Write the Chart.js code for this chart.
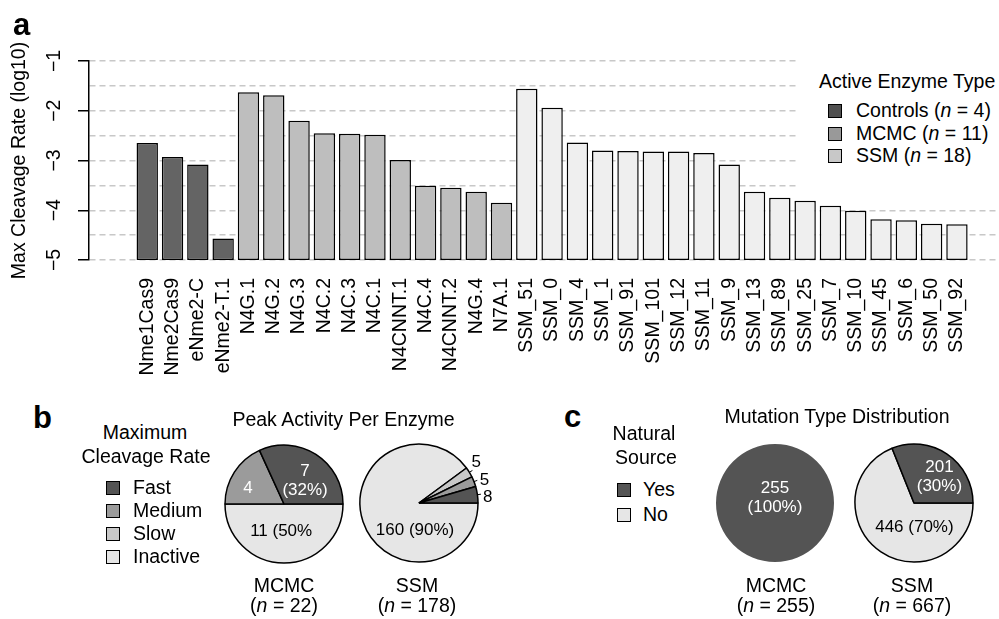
<!DOCTYPE html>
<html>
<head>
<meta charset="utf-8">
<script src="https://cdn.jsdelivr.net/npm/chart.js@4"></script>
<style>
  body { margin: 0; background: #fff; }
  #fig { position: relative; width: 999px; height: 619px; font-family: "Liberation Sans", Arial, sans-serif; color: #000; }
  #fig canvas { position: absolute; }
  .t { position: absolute; white-space: nowrap; line-height: 1; font-size: 19.5px; }
  .sw { position: absolute; box-sizing: border-box; border: 1.5px solid #000; }
</style>
</head>
<body>
<div id="fig">
  <canvas id="barChart" width="999" height="385" style="left:0;top:0"></canvas>
  <canvas id="peakMcmc" width="170" height="170"></canvas>
  <canvas id="peakSsm" width="170" height="170"></canvas>
  <canvas id="srcMcmc" width="170" height="170"></canvas>
  <canvas id="srcSsm" width="170" height="170"></canvas>
</div>
<script>
// ---- panel a data ----
const enzymeNames = ['Nme1Cas9', 'Nme2Cas9', 'eNme2-C', 'eNme2-T.1',
    'N4G.1', 'N4G.2', 'N4G.3', 'N4C.2', 'N4C.3', 'N4C.1', 'N4CNNT.1', 'N4C.4', 'N4CNNT.2', 'N4G.4', 'N7A.1',
    'SSM_51', 'SSM_0', 'SSM_4', 'SSM_1', 'SSM_91', 'SSM_101', 'SSM_12', 'SSM_11', 'SSM_9',
    'SSM_13', 'SSM_89', 'SSM_25', 'SSM_7', 'SSM_10', 'SSM_45', 'SSM_6', 'SSM_50', 'SSM_92'];
const maxCleavage = [-2.65, -2.93, -3.08, -4.57,
    -1.63, -1.69, -2.20, -2.45, -2.46, -2.48, -2.99, -3.51, -3.55, -3.63, -3.85,
    -1.56, -1.94, -2.64, -2.80, -2.81, -2.82, -2.82, -2.85, -3.08,
    -3.63, -3.75, -3.81, -3.91, -4.01, -4.18, -4.20, -4.27, -4.28];
const groupNames = ['Controls', 'MCMC', 'SSM'];
const groupSizes = [4, 11, 18];
const yFloor = -5;
const yCeil = -1;

// ---- panel b / c data ----
const rateClasses = ['Fast', 'Medium', 'Slow', 'Inactive'];
const peakMcmc = [7, 4, 0, 11];
const peakSsm = [8, 5, 5, 160];
const peakMcmcText = ['7\n(32%)', '4', '', '11 (50%'];
const peakSsmText = ['8', '5', '5', '160 (90%)'];
const sourceClasses = ['Yes', 'No'];
const sourceMcmc = [255, 0];
const sourceSsm = [201, 446];
const sourceMcmcText = ['255\n(100%)', ''];
const sourceSsmText = ['201\n(30%)', '446 (70%)'];
const pieGroups = ['MCMC', 'SSM'];
const peakTotals = [22, 178];
const sourceTotals = [255, 667];

// colours
const barFill = ['#646464', '#bebebe', '#efefef'];
const barKey = ['#505050', '#999999', '#c8c8c8'];
const rateFill = ['#545454', '#9b9b9b', '#c8c8c8', '#e6e6e6'];
const sourceFill = ['#545454', '#e6e6e6'];

const FONT = '"Liberation Sans", Arial, sans-serif';
Chart.defaults.font.family = FONT;
Chart.defaults.font.size = 19.5;
Chart.defaults.color = '#000';

const fig = document.getElementById('fig');

// put a text node on the figure; align: 'c' centre, 'l' left
function put(html, x, y, align, css) {
    const d = document.createElement('div');
    d.className = 't';
    d.innerHTML = html;
    d.style.left = x + 'px';
    d.style.top = y + 'px';
    d.style.transform = align === 'l' ? 'translate(0,-50%)' : 'translate(-50%,-50%)';
    if (css) Object.assign(d.style, css);
    fig.appendChild(d);
    return d;
}

function swatch(x, y, size, colour) {
    const s = document.createElement('div');
    s.className = 'sw';
    s.style.left = x + 'px';
    s.style.top = (y - size / 2) + 'px';
    s.style.width = size + 'px';
    s.style.height = size + 'px';
    s.style.background = colour;
    fig.appendChild(s);
}

// ---- panel a: bar chart ----
const barColours = groupSizes.flatMap((n, g) => Array(n).fill(barFill[g]));

new Chart(document.getElementById('barChart'), {
    type: 'bar',
    data: {
        datasets: [{
            data: maxCleavage.map((v, i) => ({ x: i + 1, y: [yFloor, v] })),
            backgroundColor: barColours,
            borderColor: '#000',
            borderWidth: 1.5,
            borderSkipped: false,
            barPercentage: 0.845,
            categoryPercentage: 1
        }]
    },
    options: {
        responsive: false,
        animation: false,
        events: [],
        layout: { padding: { top: 61, right: 0, bottom: 0, left: 0 } },
        plugins: { legend: { display: false }, tooltip: { enabled: false } },
        scales: {
            x: {
                type: 'linear',
                min: -0.757,
                max: 34.117,
                afterBuildTicks: s => { s.ticks = enzymeNames.map((_, i) => ({ value: i + 1 })); },
                afterFit: s => { s.height = 125; },
                grid: { display: false, drawTicks: false },
                border: { display: false },
                ticks: {
                    autoSkip: false,
                    minRotation: 90,
                    maxRotation: 90,
                    padding: 18,
                    callback: v => enzymeNames[v - 1]
                }
            },
            y: {
                min: yFloor,
                max: yCeil,
                afterFit: s => { s.width = 89; },
                border: { display: true, color: '#000', width: 1.5, dash: [6, 4] },
                grid: {
                    color: '#c8c8c8',
                    lineWidth: 1.5,
                    tickLength: 11,
                    tickWidth: 1.5,
                    tickBorderDash: [],
                    tickColor: c => (c.tick && Number.isInteger(c.tick.value)) ? '#000' : 'rgba(0,0,0,0)'
                },
                ticks: {
                    stepSize: 0.5,
                    autoSkip: false,
                    minRotation: 90,
                    maxRotation: 90,
                    crossAlign: 'center',
                    padding: 12,
                    callback: v => Number.isInteger(v) ? '\u2212' + Math.abs(v) : ''
                },
                title: {
                    display: true,
                    text: 'Max Cleavage Rate (log10)',
                    padding: { top: 8, bottom: 0 }
                }
            }
        }
    }
});

// legend of panel a, with a white box over the grid lines
const box = document.createElement('div');
Object.assign(box.style, { position: 'absolute', left: '796px', top: '50px', width: '203px', height: '146px', background: '#fff' });
fig.appendChild(box);
put('Active Enzyme Type', 819, 82, 'l');
groupNames.forEach((g, i) => {
    const y = 111.3 + i * 22.4;
    swatch(827.5, y, 14, barKey[i]);
    put(g + ' (<i>n</i> = ' + groupSizes[i] + ')', 856, y, 'l');
});

// ---- pie slice labels ----
const sliceText = {
    id: 'sliceText',
    afterDatasetsDraw(chart, args, opts) {
        const meta = chart.getDatasetMeta(0);
        const n = meta.data.length;
        const { x: cx, y: cy, outerRadius: r } = meta.data[0];
        const ctx = chart.ctx;
        ctx.save();
        ctx.font = '17px ' + FONT;
        ctx.textBaseline = 'middle';
        opts.spots.forEach((sp, i) => {
            if (!sp) return;
            const a = sp.a * Math.PI / 180;
            const px = cx + sp.d * r * Math.cos(a);
            const py = cy - sp.d * r * Math.sin(a);
            ctx.fillStyle = sp.c || '#000';
            if (sp.outer) {
                const el = meta.data[n - 1 - i];
                const mid = (el.startAngle + el.endAngle) / 2;
                ctx.strokeStyle = '#000';
                ctx.lineWidth = 1;
                ctx.beginPath();
                ctx.moveTo(cx + r * Math.cos(mid), cy + r * Math.sin(mid));
                ctx.lineTo(cx + 1.06 * r * Math.cos(mid), cy + 1.06 * r * Math.sin(mid));
                ctx.stroke();
                ctx.textAlign = 'left';
            } else {
                ctx.textAlign = 'center';
            }
            const lines = opts.text[i].split('\n');
            lines.forEach((ln, k) => {
                ctx.fillText(ln, px, py + (k - (lines.length - 1) / 2) * 19);
            });
        });
        ctx.restore();
    }
};

function makePie(id, cx, cy, values, fills, names, text, spots, border) {
    const cv = document.getElementById(id);
    cv.style.left = (cx - 85) + 'px';
    cv.style.top = (cy - 85) + 'px';
    return new Chart(cv, {
        type: 'pie',
        data: {
            labels: names.slice().reverse(),
            datasets: [{
                data: values.slice().reverse(),
                backgroundColor: fills.slice().reverse(),
                borderColor: '#000',
                borderWidth: border,
                radius: 59,
                rotation: 90,
                hoverOffset: 0
            }]
        },
        options: {
            responsive: false,
            animation: false,
            events: [],
            plugins: {
                legend: { display: false },
                tooltip: { enabled: false },
                sliceText: { text: text, spots: spots }
            }
        },
        plugins: [sliceText]
    });
}

// ---- panel b ----
makePie('peakMcmc', 284, 503.5, peakMcmc, rateFill, rateClasses, peakMcmcText, [
    { a: 47.6, d: 0.53, c: '#fff' },
    { a: 156, d: 0.67, c: '#fff' },
    null,
    { a: 264, d: 0.46 }
], 1.5);
makePie('peakSsm', 419, 503, peakSsm, rateFill, rateClasses, peakSsmText, [
    { a: 4.9, d: 1.09, outer: true },
    { a: 20.7, d: 1.1, outer: true },
    { a: 38, d: 1.13, outer: true },
    { a: 261.6, d: 0.46 }
], 1.5);

// ---- panel c ----
makePie('srcMcmc', 775, 503, sourceMcmc, sourceFill, sourceClasses, sourceMcmcText, [
    { a: 90, d: 0.08, c: '#fff' },
    null
], 0);
makePie('srcSsm', 913.5, 503, sourceSsm, sourceFill, sourceClasses, sourceSsmText, [
    { a: 46, d: 0.62, c: '#fff' },
    { a: 271, d: 0.41 }
], 1.5);

// ---- text of panels b and c ----
const letter = { fontWeight: 'bold', fontSize: '31px', transform: 'none' };
put('a', 13, 8.8, 'l', letter);
put('b', 33, 401.8, 'l', letter);
put('c', 564, 400.5, 'l', letter);

put('Maximum', 145, 432.5);
put('Cleavage Rate', 146, 456.5);
rateClasses.forEach((k, i) => {
    const y = 487.5 + i * 23.3;
    swatch(106, y, 14, rateFill[i]);
    put(k, 133, y, 'l');
});
put('Peak Activity Per Enzyme', 343.5, 420);
[284, 417].forEach((x, i) => {
    put(pieGroups[i], x, 585.5);
    put('(<i>n</i> = ' + peakTotals[i] + ')', x, 606);
});

put('Natural', 644, 434);
put('Source', 646, 458);
sourceClasses.forEach((k, i) => {
    const y = 489.5 + i * 25;
    swatch(617, y, 14, sourceFill[i]);
    put(k, 643, y, 'l');
});
put('Mutation Type Distribution', 837, 417);
[776, 912].forEach((x, i) => {
    put(pieGroups[i], x, 585.5);
    put('(<i>n</i> = ' + sourceTotals[i] + ')', x, 606);
});
</script>
</body>
</html>
